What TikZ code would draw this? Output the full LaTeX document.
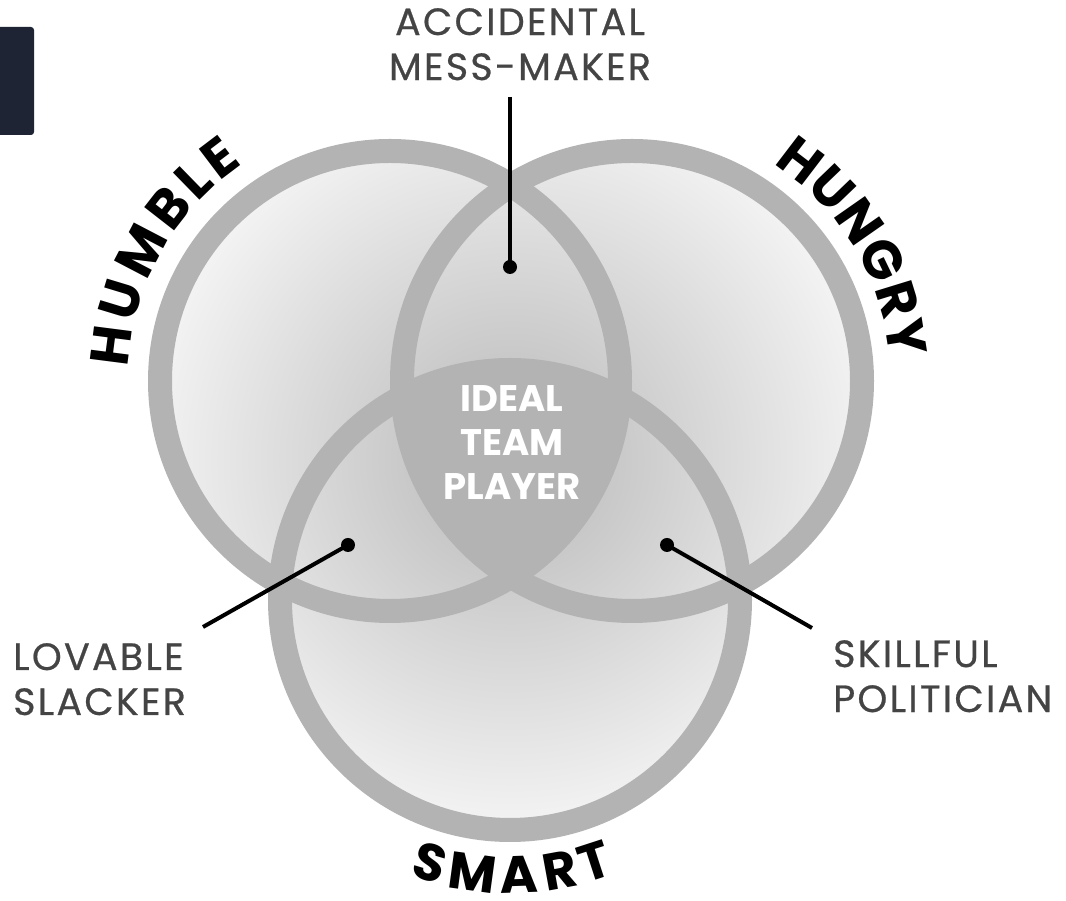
\documentclass[tikz,border=0pt]{standalone}
\usepackage{fontspec}
\usetikzlibrary{decorations.text}
\newfontfamily\poppins{Poppins}[FakeBold=0.6, LetterSpace=6]
\newfontfamily\poppinsarc{Poppins}
\newcommand\arcfont{\poppinsarc\bfseries\fontsize{54}{54}\selectfont}
\newcommand\smartfont{\poppinsarc\bfseries\fontsize{52}{52}\selectfont}
\definecolor{ringgray}{RGB}{179,179,179}
\definecolor{textgray}{RGB}{68,68,68}
\definecolor{tabnavy}{RGB}{30,36,51}
\definecolor{shadein}{RGB}{184,184,184}
\definecolor{shadeout}{RGB}{247,247,247}
\tikzset{
  ring/.style={draw=ringgray, line width=24pt},
  leader/.style={black, line width=4pt},
  dot/.style={circle, fill=black, inner sep=0pt, minimum size=14pt},
  caption/.style={text=textgray, inner sep=0pt, font=\poppins\fontsize{38}{45}\selectfont},
  arcword/.style 2 args={decorate, decoration={text along path, text align=fit to path, text={|#1|#2}}}
}
\begin{document}
\begin{tikzpicture}[x=1pt,y=1pt]
\useasboundingbox (0,0) rectangle (1066,901);
\fill[white] (0,0) rectangle (1066,901);
\fill[tabnavy, rounded corners=3pt] (-6,766) rectangle (34,874);
\coordinate (humble) at (390,520);
\coordinate (hungry) at (632,520);
\coordinate (smart) at (510,301);
\begin{scope}
  \clip (humble) circle (230) (hungry) circle (230) (smart) circle (230);
  \shade[inner color=shadein, outer color=shadeout] (511,441) circle (390);
\end{scope}
\begin{scope}
  \clip (humble) circle (230);
  \clip (hungry) circle (230);
  \fill[ringgray] (smart) circle (230);
\end{scope}
\foreach \c in {humble,hungry,smart}
  \draw[ring] (\c) circle (230);
\node[text=white, inner sep=0pt, align=center, anchor=north, font=\poppinsarc\bfseries\fontsize{37}{44}\selectfont] (ideal) at (512,516) {IDEAL\\TEAM\\PLAYER};
\node[caption, align=center, anchor=north] (mess) at (520,893) {ACCIDENTAL\\MESS-MAKER};
\node[caption, align=left, anchor=north west] (slacker) at (13,258) {LOVABLE\\SLACKER};
\node[caption, align=left, anchor=north west] (politician) at (833,261) {SKILLFUL\\POLITICIAN};
\node[dot] (messdot) at (510,634) {};
\node[dot] (slackerdot) at (348,356) {};
\node[dot] (politiciandot) at (667,356) {};
\coordinate (messend) at (510,804);
\coordinate (slackerend) at (203,274);
\coordinate (politicianend) at (812,273);
\draw[leader] (messend) -- (messdot.center);
\draw[leader] (slackerend) -- (slackerdot.center);
\draw[leader] (politicianend) -- (politiciandot.center);
\path[arcword={\arcfont}{HUMBLE}] ([shift={(177:262)}]humble) arc[start angle=177, end angle=124, radius=262];
\path[arcword={\arcfont}{HUNGRY}] ([shift={(57:259)}]hungry) arc[start angle=57, end angle=5, radius=259];
\path[arcword={\smartfont}{SMART}] ([shift={(250:293)}]smart) arc[start angle=250, end angle=291, radius=293];
\end{tikzpicture}
\end{document}
